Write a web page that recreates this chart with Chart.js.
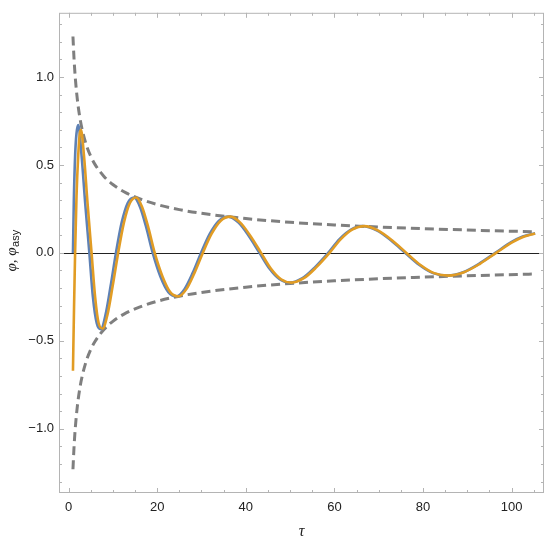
<!DOCTYPE html>
<html>
<head>
<meta charset="utf-8">
<script src="https://cdn.jsdelivr.net/npm/chart.js@4/dist/chart.umd.min.js"></script>
<style>
  html, body { margin: 0; padding: 0; background: #fff; }
  #wrap { width: 550px; height: 541px; }
</style>
</head>
<body>
<div id="wrap"><canvas id="phiChart" width="550" height="541"></canvas></div>
<script>
// values
const tauPhi = [1.0, 1.2, 1.5, 1.8, 2.2, 2.93, 3.76, 4.7, 5.5, 6.37, 7.3, 8.36, 9.49, 10.7, 11.99, 13.36, 14.8, 16.14, 17.54, 19.0, 20.73, 22.53, 24.4, 26.17, 28.0, 29.9, 31.9, 33.97, 36.1, 38.37, 40.69, 43.1, 45.33, 47.64, 50.0, 52.78, 55.65, 58.6, 61.15, 63.74, 66.4, 69.54, 72.73, 76.0, 79.1, 82.28, 85.5, 89.03, 92.62, 96.3, 100.0, 102.5, 105.3];
const phiValues = [0.0, 0.3, 0.56, 0.68, 0.727, 0.557, 0.283, 0.0, -0.25, -0.4, -0.434, -0.351, -0.19, 0.0, 0.172, 0.284, 0.315, 0.261, 0.145, 0.0, -0.134, -0.223, -0.247, -0.206, -0.115, 0.0, 0.109, 0.183, 0.206, 0.172, 0.096, 0.0, -0.089, -0.15, -0.169, -0.144, -0.081, 0.0, 0.078, 0.132, 0.152, 0.128, 0.072, 0.0, -0.067, -0.115, -0.129, -0.11, -0.062, 0.0, 0.063, 0.094, 0.112];

const tauAsy = [1.0, 1.25, 1.5, 1.8, 2.2, 2.5, 2.8, 3.5, 4.3, 5.2, 6.0, 6.8, 7.7, 8.8, 9.95, 11.2, 12.5, 13.85, 15.3, 16.6, 18.0, 19.45, 21.2, 22.95, 24.8, 26.6, 28.4, 30.3, 32.3, 34.35, 36.5, 38.75, 41.05, 43.45, 45.65, 47.95, 50.3, 53.1, 55.95, 58.9, 61.45, 64.0, 66.7, 69.8, 73.0, 76.25, 79.35, 82.5, 85.75, 89.25, 92.85, 96.5, 100.2, 102.7, 105.3];
const asyValues = [-0.67, -0.3, 0.02, 0.32, 0.56, 0.67, 0.70, 0.55, 0.28, 0.0, -0.25, -0.40, -0.43, -0.35, -0.19, 0.0, 0.172, 0.284, 0.315, 0.261, 0.145, 0.0, -0.134, -0.223, -0.247, -0.206, -0.115, 0.0, 0.109, 0.183, 0.206, 0.172, 0.096, 0.0, -0.089, -0.15, -0.169, -0.144, -0.081, 0.0, 0.078, 0.132, 0.152, 0.128, 0.072, 0.0, -0.067, -0.115, -0.129, -0.11, -0.062, 0.0, 0.061, 0.092, 0.11];

const tauEnv = [1, 1.25, 1.5, 2, 2.5, 3, 4, 5, 6, 8, 10, 13, 16, 20, 25, 30, 40, 50, 60, 70, 80, 90, 105.3];
const envUpper = [1.23, 1.10, 1.004, 0.87, 0.778, 0.71, 0.615, 0.55, 0.502, 0.435, 0.389, 0.341, 0.308, 0.275, 0.246, 0.225, 0.195, 0.174, 0.159, 0.147, 0.138, 0.13, 0.12];
const envLower = [-1.23, -1.10, -1.004, -0.87, -0.778, -0.71, -0.615, -0.55, -0.502, -0.435, -0.389, -0.341, -0.308, -0.275, -0.246, -0.225, -0.195, -0.174, -0.159, -0.147, -0.138, -0.13, -0.12];

const xTicks = [0, 20, 40, 60, 80, 100];
const yTicks = [-1.0, -0.5, 0.0, 0.5, 1.0];
const xMinorStep = 5;
const yMinorStep = 0.1;

function toPoints(xs, ys) {
    return xs.map(function (x, i) {
        return { x: x, y: ys[i] };
    });
}

function fmtY(v) {
    const s = Math.abs(v).toFixed(1);
    return v < -1e-9 ? "\u2212" + s : s;
}

// Mathematica-like frame: box, inward ticks on all sides, zero line, y title
const framePlugin = {
    id: "frame",
    beforeDatasetsDraw: function (chart) {
        const ctx = chart.ctx;
        const a = chart.chartArea;
        const ys = chart.scales.y;
        ctx.save();
        ctx.strokeStyle = "#222";
        ctx.lineWidth = 1;
        const y0 = Math.round(ys.getPixelForValue(0)) + 0.5;
        ctx.beginPath();
        ctx.moveTo(a.left, y0);
        ctx.lineTo(a.right, y0);
        ctx.stroke();
        ctx.restore();
    },
    afterDraw: function (chart) {
        const ctx = chart.ctx;
        const a = chart.chartArea;
        const xs = chart.scales.x;
        const ys = chart.scales.y;
        ctx.save();
        ctx.strokeStyle = "#b4b4b4";
        ctx.lineWidth = 1;
        ctx.strokeRect(a.left + 0.5, a.top + 0.5, a.right - a.left - 1, a.bottom - a.top - 1);

        ctx.beginPath();
        for (let v = 0; v <= xs.max; v += xMinorStep) {
            const px = Math.round(xs.getPixelForValue(v)) + 0.5;
            const len = xTicks.indexOf(v) >= 0 ? 5 : 3;
            ctx.moveTo(px, a.bottom);
            ctx.lineTo(px, a.bottom - len);
            ctx.moveTo(px, a.top);
            ctx.lineTo(px, a.top + len);
        }
        for (let k = -13; k <= 13; k++) {
            const v = k * yMinorStep;
            const py = Math.round(ys.getPixelForValue(v)) + 0.5;
            const len = k % 5 === 0 ? 5 : 3;
            ctx.moveTo(a.left, py);
            ctx.lineTo(a.left + len, py);
            ctx.moveTo(a.right, py);
            ctx.lineTo(a.right - len, py);
        }
        ctx.stroke();

        // y axis title: φ, φ_asy
        const cy = (a.top + a.bottom) / 2 - 2;
        ctx.translate(16, cy);
        ctx.rotate(-Math.PI / 2);
        ctx.fillStyle = "#222";
        ctx.textBaseline = "alphabetic";
        const main = "\u03c6, \u03c6";
        ctx.font = "italic 15px 'Liberation Serif'";
        const w1 = ctx.measureText(main).width;
        ctx.font = "11px 'Liberation Sans'";
        const w2 = ctx.measureText("asy").width;
        const start = -(w1 + w2) / 2;
        ctx.font = "italic 15px 'Liberation Serif'";
        ctx.fillText(main, start, 0);
        ctx.font = "11px 'Liberation Sans'";
        ctx.fillText("asy", start + w1 + 0.5, 3);
        ctx.restore();
    },
};

function renderChart() {
    const ctx = document.getElementById("phiChart").getContext("2d");

    new Chart(ctx, {
        type: "line",
        data: {
            datasets: [
                {
                    label: "\u03c6_asy",
                    data: toPoints(tauAsy, asyValues),
                    borderColor: "#e19c24",
                    borderWidth: 2.6,
                    cubicInterpolationMode: "monotone",
                    order: 0,
                },
                {
                    label: "\u03c6",
                    data: toPoints(tauPhi, phiValues),
                    borderColor: "#5e81b5",
                    borderWidth: 2.6,
                    cubicInterpolationMode: "monotone",
                    order: 1,
                },
                {
                    label: "upper",
                    data: toPoints(tauEnv, envUpper),
                    borderColor: "#7f7f7f",
                    borderWidth: 3,
                    borderDash: [9, 5],
                    cubicInterpolationMode: "monotone",
                    order: 2,
                },
                {
                    label: "lower",
                    data: toPoints(tauEnv, envLower),
                    borderColor: "#7f7f7f",
                    borderWidth: 3,
                    borderDash: [9, 5],
                    cubicInterpolationMode: "monotone",
                    order: 2,
                },
            ],
        },
        options: {
            responsive: false,
            animation: false,
            layout: { padding: { left: 0, top: 8, right: 6, bottom: 0 } },
            elements: { point: { radius: 0 }, line: { fill: false } },
            plugins: { legend: { display: false }, tooltip: { enabled: false } },
            scales: {
                x: {
                    type: "linear",
                    min: -2.15,
                    max: 107.3,
                    grid: { display: false, drawTicks: false },
                    border: { display: false },
                    afterBuildTicks: function (scale) {
                        scale.ticks = xTicks.map(function (v) { return { value: v }; });
                    },
                    afterFit: function (scale) {
                        scale.height = 48;
                    },
                    ticks: {
                        padding: 7,
                        color: "#222",
                        font: { family: "'Liberation Sans'", size: 13 },
                        maxRotation: 0,
                    },
                    title: {
                        display: true,
                        text: "\u03c4",
                        color: "#222",
                        font: { family: "'Liberation Serif'", size: 16, style: "italic" },
                        padding: { top: 0, bottom: 0 },
                    },
                },
                y: {
                    type: "linear",
                    min: -1.365,
                    max: 1.365,
                    grid: { display: false, drawTicks: false },
                    border: { display: false },
                    afterBuildTicks: function (scale) {
                        scale.ticks = yTicks.map(function (v) { return { value: v }; });
                    },
                    afterFit: function (scale) {
                        scale.width = 59;
                    },
                    ticks: {
                        padding: 5,
                        color: "#222",
                        font: { family: "'Liberation Sans'", size: 13 },
                        callback: function (v) { return fmtY(v); },
                    },
                },
            },
        },
        plugins: [framePlugin],
    });
}

renderChart();
</script>
</body>
</html>
